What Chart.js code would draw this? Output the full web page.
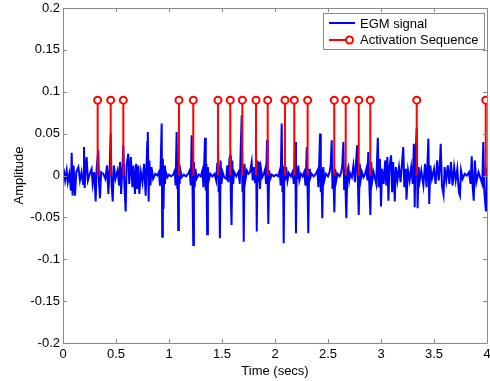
<!DOCTYPE html>
<html>
<head>
<meta charset="utf-8">
<script src="https://cdn.jsdelivr.net/npm/chart.js@4/dist/chart.umd.min.js"></script>
<style>
html,body{margin:0;padding:0;background:#fff;}
#wrap{width:490px;height:381px;position:relative;}
</style>
</head>
<body>
<div id="wrap"><canvas id="c"></canvas></div>
<script>
// ---- data ----
const seriesNames = ["EGM signal", "Activation Sequence"];
// EGM signal: [time (s), amplitude]
const egmSamples = [
[0.00,0.000],[0.01,0.004],[0.02,-0.006],[0.035,0.006],[0.045,-0.008],[0.06,0.002],[0.075,-0.018],[0.082,0.027],[0.09,-0.024],[0.10,0.012],
[0.113,-0.024],[0.125,0.004],[0.145,0.010],[0.16,-0.006],[0.175,0.004],[0.19,-0.010],[0.198,0.034],[0.205,-0.015],[0.215,0.012],[0.223,0.022],
[0.235,-0.006],[0.255,0.003],[0.27,0.008],[0.28,-0.010],[0.295,0.004],[0.308,-0.031],[0.318,0.010],[0.333,0.030],[0.340,-0.010],[0.349,-0.027],
[0.36,0.004],[0.38,0.002],[0.40,-0.004],[0.415,0.012],[0.428,-0.022],[0.44,0.010],[0.45,0.050],[0.458,-0.010],[0.469,-0.031],[0.48,0.012],
[0.495,-0.004],[0.515,0.006],[0.53,-0.012],[0.538,0.016],[0.548,-0.022],[0.56,0.008],[0.569,0.036],[0.578,-0.008],[0.591,-0.043],[0.60,0.012],
[0.616,0.026],[0.625,-0.010],[0.64,0.022],[0.655,-0.014],[0.665,0.012],[0.679,-0.022],[0.69,0.014],[0.70,-0.016],[0.711,0.012],[0.72,-0.022],
[0.735,0.004],[0.75,-0.008],[0.765,0.014],[0.78,-0.024],[0.795,0.040],[0.80,0.052],[0.808,-0.031],[0.815,0.018],[0.825,-0.012],[0.835,0.010],
[0.85,-0.004],[0.87,0.002],[0.89,0.000],[0.905,0.004],[0.915,-0.012],[0.922,0.016],[0.931,0.062],[0.936,-0.073],[0.942,0.020],[0.948,-0.040],
[0.955,0.012],[0.962,-0.010],[0.97,0.004],[0.985,-0.002],[1.00,0.001],[1.02,-0.001],[1.04,0.001],[1.055,0.006],[1.062,-0.012],[1.072,0.052],
[1.078,-0.015],[1.083,0.012],[1.087,-0.065],[1.093,0.014],[1.10,-0.010],[1.108,0.006],[1.12,-0.002],[1.14,0.001],[1.16,-0.001],[1.18,0.002],
[1.195,0.006],[1.205,-0.012],[1.214,0.048],[1.222,-0.016],[1.229,-0.083],[1.235,0.016],[1.242,-0.014],[1.25,0.008],[1.26,-0.004],[1.28,0.001],
[1.30,-0.001],[1.315,0.006],[1.325,-0.014],[1.34,0.045],[1.347,-0.018],[1.353,0.014],[1.36,-0.070],[1.367,0.010],[1.375,-0.006],[1.39,0.002],
[1.41,-0.001],[1.43,0.002],[1.445,-0.006],[1.455,0.014],[1.462,0.042],[1.468,-0.020],[1.474,0.012],[1.48,-0.075],[1.487,0.018],[1.495,-0.010],
[1.505,0.004],[1.52,-0.002],[1.54,-0.004],[1.55,0.012],[1.56,-0.008],[1.57,0.020],[1.578,0.024],[1.584,-0.030],[1.59,-0.059],[1.597,0.018],
[1.605,-0.010],[1.615,0.004],[1.635,-0.001],[1.655,0.004],[1.668,-0.010],[1.676,0.030],[1.686,0.072],[1.693,-0.020],[1.699,0.010],[1.705,-0.079],
[1.712,0.014],[1.72,-0.006],[1.735,0.006],[1.75,0.002],[1.765,0.004],[1.78,0.016],[1.79,-0.006],[1.80,0.010],[1.812,-0.008],[1.82,0.045],
[1.828,-0.067],[1.835,0.018],[1.842,-0.008],[1.85,0.016],[1.858,-0.016],[1.868,0.008],[1.88,-0.002],[1.895,0.002],[1.908,0.008],[1.915,-0.010],
[1.925,0.042],[1.932,-0.020],[1.937,-0.058],[1.945,0.006],[1.955,-0.004],[1.97,0.001],[1.99,-0.001],[2.01,0.001],[2.03,-0.001],[2.045,0.006],
[2.053,-0.012],[2.063,0.062],[2.07,-0.020],[2.076,0.010],[2.082,-0.081],[2.089,0.012],[2.096,-0.006],[2.105,0.010],[2.118,-0.006],[2.13,0.003],
[2.15,-0.001],[2.165,0.004],[2.178,-0.010],[2.19,0.040],[2.198,-0.069],[2.205,0.010],[2.213,-0.004],[2.22,0.012],[2.23,-0.006],[2.245,0.002],
[2.26,-0.001],[2.275,0.004],[2.288,-0.012],[2.30,0.034],[2.308,-0.020],[2.314,-0.069],[2.322,0.008],[2.33,-0.004],[2.345,0.002],[2.365,-0.001],
[2.385,0.002],[2.40,0.006],[2.41,-0.014],[2.418,0.020],[2.425,0.050],[2.432,-0.020],[2.438,0.008],[2.446,-0.051],[2.455,0.010],[2.465,-0.006],
[2.48,0.002],[2.50,-0.001],[2.515,0.004],[2.525,0.012],[2.535,0.042],[2.542,-0.016],[2.55,0.006],[2.56,-0.044],[2.568,0.008],[2.578,-0.006],
[2.59,0.002],[2.61,-0.001],[2.625,0.004],[2.635,0.012],[2.645,0.040],[2.652,-0.016],[2.66,0.008],[2.673,-0.051],[2.682,0.006],[2.692,0.010],
[2.70,-0.006],[2.71,0.002],[2.725,-0.002],[2.74,0.012],[2.755,-0.008],[2.765,0.016],[2.775,0.036],[2.783,-0.012],[2.79,-0.047],[2.80,0.014],
[2.81,-0.004],[2.82,0.004],[2.835,-0.002],[2.85,0.002],[2.862,0.008],[2.872,-0.006],[2.88,0.028],[2.89,-0.012],[2.90,-0.047],[2.908,0.016],
[2.918,-0.006],[2.93,0.004],[2.945,-0.004],[2.955,-0.010],[2.97,0.045],[2.978,-0.014],[2.99,0.020],[3.00,-0.037],[3.01,0.008],[3.025,-0.010],
[3.04,0.018],[3.05,-0.012],[3.06,0.022],[3.07,-0.030],[3.08,0.010],[3.095,0.024],[3.105,-0.020],[3.115,0.016],[3.13,-0.031],[3.14,0.010],
[3.155,-0.006],[3.17,0.010],[3.185,-0.008],[3.20,0.018],[3.21,0.034],[3.22,-0.014],[3.235,0.008],[3.24,-0.029],[3.255,0.006],[3.27,-0.006],
[3.285,0.010],[3.30,-0.010],[3.31,0.038],[3.318,-0.038],[3.325,0.020],[3.337,0.057],[3.345,-0.039],[3.355,0.010],[3.365,-0.006],[3.38,0.006],
[3.40,-0.012],[3.415,0.014],[3.43,-0.014],[3.447,0.044],[3.455,-0.034],[3.465,0.012],[3.48,-0.004],[3.50,0.008],[3.515,-0.010],[3.53,0.018],
[3.545,-0.006],[3.555,0.012],[3.563,0.038],[3.575,-0.012],[3.59,-0.023],[3.60,0.010],[3.615,-0.006],[3.63,0.012],[3.645,-0.010],[3.66,0.016],
[3.675,-0.012],[3.69,0.010],[3.705,-0.006],[3.72,0.008],[3.735,-0.020],[3.745,-0.024],[3.755,0.006],[3.77,-0.004],[3.79,0.002],[3.81,0.000],
[3.83,0.004],[3.845,-0.010],[3.856,0.023],[3.865,-0.014],[3.875,-0.030],[3.885,0.018],[3.90,-0.008],[3.92,0.004],[3.94,-0.004],[3.955,-0.010],
[3.965,0.040],[3.975,-0.020],[3.99,-0.043],[4.00,0.010]
];
const activationTime = [0.327,0.450,0.569,1.094,1.229,1.462,1.578,1.692,1.821,1.931,2.094,2.182,2.308,2.559,2.667,2.790,2.899,3.337,3.988];
const activationLevel = 0.09;
const xTickValues = [0,0.5,1,1.5,2,2.5,3,3.5,4];
const xTickLabels = ["0","0.5","1","1.5","2","2.5","3","3.5","4"];
const yTickValues = [-0.2,-0.15,-0.1,-0.05,0,0.05,0.1,0.15,0.2];
const yTickLabels = ["-0.2","-0.15","-0.1","-0.05","0","0.05","0.1","0.15","0.2"];
const xTitle = "Time (secs)";
const yTitle = "Amplitude";

// ---- build library data ----
const egmData = egmSamples.map(p => ({x: p[0], y: p[1]}));
const stemData = [];
activationTime.forEach(t => {
  stemData.push({x: t, y: 0});
  stemData.push({x: t, y: activationLevel});
  stemData.push({x: t, y: null});
});

const FONT = "'Liberation Sans', Arial, Helvetica, sans-serif";
const AXIS_COLOR = '#8a8a8a';

const boxPlugin = {
  id: 'matlabBox',
  afterDatasetsDraw(chart) {
    const ctx = chart.ctx, a = chart.chartArea;
    const xs = chart.scales.x, ys = chart.scales.y;
    ctx.save();
    ctx.strokeStyle = AXIS_COLOR;
    ctx.lineWidth = 1;
    ctx.beginPath();
    ctx.rect(Math.round(a.left) + 0.5, Math.round(a.top) + 0.5, Math.round(a.right - a.left), Math.round(a.bottom - a.top));
    const tl = 4;
    xTickValues.forEach(v => {
      const px = Math.round(xs.getPixelForValue(v)) + 0.5;
      ctx.moveTo(px, a.bottom); ctx.lineTo(px, a.bottom - tl);
      ctx.moveTo(px, a.top); ctx.lineTo(px, a.top + tl);
    });
    yTickValues.forEach(v => {
      const py = Math.round(ys.getPixelForValue(v)) + 0.5;
      ctx.moveTo(a.left, py); ctx.lineTo(a.left + tl, py);
      ctx.moveTo(a.right, py); ctx.lineTo(a.right - tl, py);
    });
    ctx.stroke();
    ctx.restore();
  },
  afterDraw(chart) {
    // legend box (MATLAB style)
    const ctx = chart.ctx;
    const bx = 323.5, by = 13.5, bw = 161, bh = 36;
    ctx.save();
    ctx.fillStyle = '#fff';
    ctx.fillRect(bx, by, bw, bh);
    ctx.strokeStyle = AXIS_COLOR;
    ctx.lineWidth = 1;
    ctx.strokeRect(bx, by, bw, bh);
    ctx.strokeStyle = '#0000ff';
    ctx.lineWidth = 2;
    ctx.beginPath(); ctx.moveTo(329, 23); ctx.lineTo(355, 23); ctx.stroke();
    ctx.strokeStyle = '#ff0000';
    ctx.beginPath(); ctx.moveTo(329, 40); ctx.lineTo(346, 40); ctx.stroke();
    ctx.beginPath(); ctx.arc(349.5, 40, 3.5, 0, Math.PI * 2); ctx.fillStyle = '#fff'; ctx.fill(); ctx.stroke();
    ctx.fillStyle = '#000';
    ctx.font = '13px ' + FONT;
    ctx.textBaseline = 'middle';
    ctx.textAlign = 'left';
    ctx.fillText(seriesNames[0], 360, 24);
    ctx.fillText(seriesNames[1], 360, 40.5);
    ctx.restore();
  }
};

new Chart(document.getElementById('c'), {
  type: 'line',
  data: {
    datasets: [
      {
        label: seriesNames[1],
        data: stemData,
        borderColor: '#ff0000',
        borderWidth: 2,
        pointRadius: ctx => (ctx.raw && ctx.raw.y === activationLevel) ? 3.5 : 0,
        pointBorderWidth: 2,
        pointBorderColor: '#ff0000',
        pointBackgroundColor: '#ffffff',
        pointHoverRadius: 0,
        spanGaps: false,
        tension: 0,
        order: 0
      },
      {
        label: seriesNames[0],
        data: egmData,
        borderColor: '#0000ff',
        borderWidth: 2,
        pointRadius: 0,
        tension: 0,
        order: 1
      }
    ]
  },
  options: {
    responsive: true,
    maintainAspectRatio: false,
    animation: false,
    events: [],
    layout: { padding: { top: 8, right: 3, left: 0, bottom: 0 } },
    plugins: { legend: { display: false }, tooltip: { enabled: false } },
    scales: {
      x: {
        type: 'linear',
        min: 0, max: 4,
        afterBuildTicks: s => { s.ticks = xTickValues.map(v => ({value: v})); },
        afterFit: s => { s.height = 38; s.paddingLeft = 0; s.paddingRight = 0; },
        grid: { display: false, drawTicks: false },
        border: { display: false },
        ticks: {
          color: '#000',
          font: { family: FONT, size: 13 },
          padding: 4,
          maxRotation: 0,
          callback: (v) => { const i = xTickValues.indexOf(v); return i >= 0 ? xTickLabels[i] : ''; }
        },
        title: { display: true, text: xTitle, color: '#000', font: { family: FONT, size: 13 }, padding: { top: 0, bottom: 2 } }
      },
      y: {
        type: 'linear',
        min: -0.2, max: 0.2,
        afterBuildTicks: s => { s.ticks = yTickValues.map(v => ({value: v})); },
        afterFit: s => { s.width = 63; s.paddingTop = 0; s.paddingBottom = 0; },
        grid: { display: false, drawTicks: false },
        border: { display: false },
        ticks: {
          color: '#000',
          font: { family: FONT, size: 13 },
          padding: 3,
          callback: (v) => { const i = yTickValues.findIndex(t => Math.abs(t - v) < 1e-9); return i >= 0 ? yTickLabels[i] : ''; }
        },
        title: { display: true, text: yTitle, color: '#000', font: { family: FONT, size: 13 }, padding: { top: 12, bottom: 0 } }
      }
    }
  },
  plugins: [boxPlugin]
});
</script>
</body>
</html>
